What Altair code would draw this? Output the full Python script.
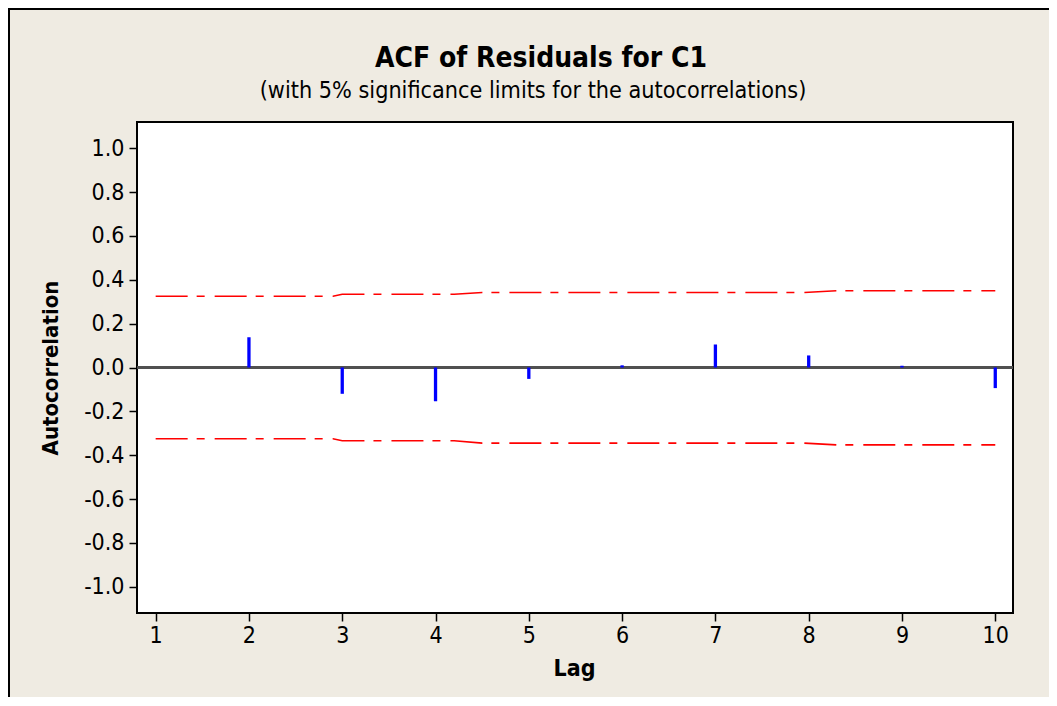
import altair as alt
import pandas as pd

# ---- data ----
lags = [1, 2, 3, 4, 5, 6, 7, 8, 9, 10]
acf_values = [0.0, 0.138, -0.120, -0.154, -0.052, 0.010, 0.105, 0.055, 0.008, -0.094]

limit_lags = [1, 2.9, 3.0, 4.2, 4.5, 7.95, 8.3, 10]
upper_limits = [0.325, 0.325, 0.334, 0.334, 0.342, 0.342, 0.350, 0.350]
lower_limits = [-0.325, -0.325, -0.334, -0.334, -0.345, -0.345, -0.353, -0.353]

y_ticks = [-1.0, -0.8, -0.6, -0.4, -0.2, 0.0, 0.2, 0.4, 0.6, 0.8, 1.0]
x_ticks = [1, 2, 3, 4, 5, 6, 7, 8, 9, 10]

title_text = ["ACF of Residuals for C1"]
subtitle_text = ["(with 5% significance limits for the autocorrelations)"]

FONT = "DejaVu Sans Condensed, DejaVu Sans"
BEIGE = "#EFEBE2"

acf_df = pd.DataFrame({"Lag": lags, "ACF": acf_values})
lim_df = pd.concat([
    pd.DataFrame({"Lag": limit_lags, "Limit": upper_limits, "bound": "upper"}),
    pd.DataFrame({"Lag": limit_lags, "Limit": lower_limits, "bound": "lower"}),
])
title_df = pd.DataFrame({"t": title_text})
subtitle_df = pd.DataFrame({"t": subtitle_text})

x_scale = alt.Scale(domain=[0.8, 10.19], nice=False, zero=False)
y_scale = alt.Scale(domain=[-1.12, 1.12], nice=False, zero=False)

x_axis = alt.Axis(
    values=x_ticks, title="Lag", format="d", grid=False, domain=False,
    tickSize=8, tickWidth=1.5, tickColor="black",
    labelFont=FONT, labelFontSize=23, labelColor="black", labelPadding=3,
    titleFont=FONT, titleFontSize=23, titleFontWeight="bold", titleColor="black",
    titleX=437, titleY=55, titleAlign="center", titleBaseline="middle",
)
y_axis = alt.Axis(
    values=y_ticks, title="Autocorrelation", grid=False, domain=False,
    tickSize=8, tickWidth=1.5, tickColor="black",
    labelFont=FONT, labelFontSize=23, labelColor="black", labelPadding=5,
    labelExpr="datum.value < 0 ? '-' + format(-datum.value, '.1f') : format(datum.value, '.1f')",
    titleFont=FONT, titleFontSize=22, titleFontWeight="bold", titleColor="black",
    titleX=-87, titleY=245.5, titleAngle=270, titleAlign="center", titleBaseline="middle",
)

frame = alt.Chart(title_df).mark_rect(
    fillOpacity=0, stroke="black", strokeWidth=2
).encode(
    x=alt.value(-128), y=alt.value(-113), x2=alt.value(3000), y2=alt.value(3000)
)

title_mark = alt.Chart(title_df).mark_text(
    font=FONT, fontSize=28, fontWeight="bold", color="black",
    align="center", baseline="alphabetic"
).encode(x=alt.value(404), y=alt.value(-55), text="t:N")

subtitle_mark = alt.Chart(subtitle_df).mark_text(
    font=FONT, fontSize=23.2, color="black",
    align="center", baseline="alphabetic"
).encode(x=alt.value(396), y=alt.value(-24), text="t:N")

zero_line = alt.Chart(acf_df).mark_rule(color="#505050", strokeWidth=2).encode(
    y=alt.datum(0, scale=y_scale, axis=y_axis)
)

bars = alt.Chart(acf_df).mark_rule(color="#0000FF", strokeWidth=3.3).encode(
    x=alt.X("Lag:Q", scale=x_scale, axis=x_axis),
    y=alt.Y("ACF:Q", scale=y_scale, axis=y_axis),
    y2=alt.datum(0),
)

limits = alt.Chart(lim_df).mark_line(
    color="#FF0000", strokeWidth=1.6, strokeDash=[32, 9, 8, 10]
).encode(
    x=alt.X("Lag:Q", scale=x_scale, axis=x_axis),
    y=alt.Y("Limit:Q", scale=y_scale, axis=y_axis),
    detail="bound:N",
)

chart = alt.layer(frame, title_mark, subtitle_mark, zero_line, limits, bars).properties(
    width=876,
    height=491,
    autosize=alt.AutoSizeParams(type="none"),
    padding={"left": 129, "top": 114, "right": 36, "bottom": 84},
    background=BEIGE,
).configure_view(
    fill="white", stroke="black", strokeWidth=2
)

chart.save("out.html", embed_options={"renderer": "svg", "actions": False})
